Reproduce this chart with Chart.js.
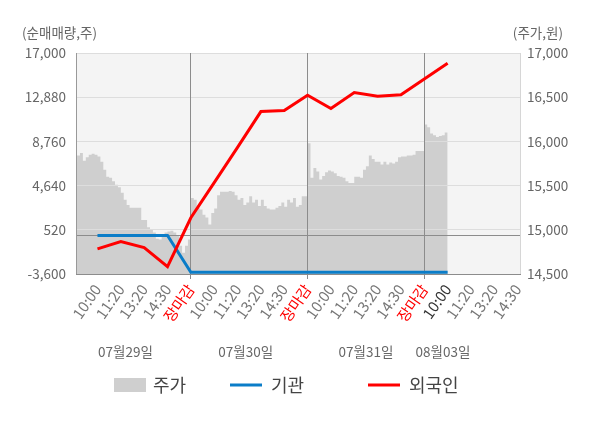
<!DOCTYPE html>
<html>
<head>
<meta charset="utf-8">
<script src="https://cdn.jsdelivr.net/npm/chart.js@4.4.0/dist/chart.umd.min.js"></script>
<style>
  html, body { margin: 0; padding: 0; background: #fff; }
  #wrap { width: 600px; height: 428px; position: relative; }
</style>
</head>
<body>
<div id="wrap"><canvas id="chart"></canvas></div>
<script>
// x axis: one slot per label, sessions end at 장마감
const xLabels = ['10:00','11:20','13:20','14:30','장마감',
                 '10:00','11:20','13:20','14:30','장마감',
                 '10:00','11:20','13:20','14:30','장마감',
                 '10:00','11:20','13:20','14:30'];
const dayLabels = ['07월29일', '07월30일', '07월31일', '08월03일'];
const dayLabelAt = [1.2, 6.35, 11.5, 14.8];

// 순매매량 (주) at each label slot
const foreign = [-1260, -580, -1140, -2920, 1640, 4920, 8200, 11540, 11640, 13070, 11820, 13320, 12980, 13100, 14570, 16040];
const institution = [0, 0, 0, 0, -3440, -3440, -3440, -3440, -3440, -3440, -3440, -3440, -3440, -3440, -3440, -3440];

// 주가 (원), 40 samples per session
const priceDay1 = [15760, 15840, 15870, 15780, 15820, 15850, 15860, 15850, 15830, 15770,
                   15680, 15600, 15590, 15550, 15510, 15480, 15420, 15340, 15280, 15250,
                   15250, 15250, 15250, 15110, 15110, 15030, 15000, 14970, 14900, 14890,
                   14950, 14970, 14980, 14990, 14970, 14940, 14820, 14740, 14820, 14890];
const priceDay2 = [15360, 15340, 15250, 15230, 15170, 15140, 15060, 15190, 15240, 15390,
                   15430, 15430, 15430, 15440, 15430, 15390, 15340, 15360, 15280, 15310,
                   15380, 15310, 15340, 15270, 15340, 15270, 15240, 15230, 15230, 15250,
                   15270, 15310, 15260, 15340, 15310, 15360, 15260, 15280, 15380, 15380];
const priceDay3 = [15980, 15590, 15700, 15660, 15570, 15610, 15650, 15670, 15660, 15640,
                   15610, 15600, 15590, 15550, 15530, 15530, 15600, 15600, 15590, 15680,
                   15720, 15840, 15800, 15770, 15770, 15740, 15770, 15740, 15760, 15750,
                   15770, 15820, 15830, 15830, 15840, 15840, 15850, 15890, 15890, 15890];
const priceDay4 = [16190, 16160, 16090, 16070, 16050, 16060, 16070, 16100];

const leftTicks = [-3600, 520, 4640, 8760, 12880, 17000];
const rightTicks = [14500, 15000, 15500, 16000, 16500, 17000];

const SAMPLES = 40;
const pricePoints = [];
[priceDay1, priceDay2, priceDay3, priceDay4].forEach((day, d) => {
  day.forEach((v, k) => pricePoints.push({ x: -1 + 5 * d + 5 * k / SAMPLES, y: v }));
});
const lastP = pricePoints[pricePoints.length - 1];
pricePoints.push({ x: lastP.x + 5 / SAMPLES, y: lastP.y });

const currentIdx = foreign.length - 1;
const fmt = v => Number(v).toLocaleString('en-US');
const FONT = "'Noto Sans CJK KR', 'Noto Sans', sans-serif";
Chart.defaults.font.family = FONT;

const decor = {
  id: 'decor',
  beforeDraw(chart) {
    const { ctx, chartArea: a } = chart;
    ctx.save();
    ctx.fillStyle = '#f4f4f4';
    ctx.fillRect(a.left, a.top, a.right - a.left, a.bottom - a.top);
    ctx.restore();
  },
  afterDatasetDraw(chart, args) {
    // grid sits on top of the price area, under the lines
    if (args.index !== 0) return;
    ['y', 'x'].forEach(id => {
      chart.scales[id].drawGrid(chart.chartArea);
      chart.scales[id].drawBorder();
    });
  },
  afterDraw(chart) {
    const { ctx } = chart;
    const xs = chart.scales.x;
    ctx.save();
    ctx.textBaseline = 'middle';
    ctx.font = '13.5px ' + FONT;
    ctx.fillStyle = '#666';
    ctx.textAlign = 'left';
    ctx.fillText('(순매매량,주)', 22, 33);
    ctx.textAlign = 'right';
    ctx.fillText('(주가,원)', 563, 33);

    ctx.textAlign = 'center';
    dayLabels.forEach((t, i) => ctx.fillText(t, xs.getPixelForValue(dayLabelAt[i]), 352));

    // legend
    const ds = chart.data.datasets;
    const y = 385;
    ctx.font = '18px ' + FONT;
    ctx.textAlign = 'left';
    ctx.fillStyle = ds[0].backgroundColor;
    ctx.fillRect(114, y - 7, 32, 14);
    ctx.fillStyle = '#444';
    ctx.fillText(ds[0].label, 153, y);
    [[ds[1], 230], [ds[2], 368]].forEach(([d, x0]) => {
      ctx.strokeStyle = d.borderColor;
      ctx.lineWidth = 3;
      ctx.beginPath();
      ctx.moveTo(x0, y);
      ctx.lineTo(x0 + 32, y);
      ctx.stroke();
      ctx.fillStyle = '#444';
      ctx.fillText(d.label, x0 + 41, y);
    });
    ctx.restore();
  }
};

new Chart(document.getElementById('chart'), {
  type: 'line',
  data: {
    datasets: [
      { label: '주가', data: pricePoints, yAxisID: 'y1', stepped: true, fill: 'start',
        backgroundColor: '#cfcfcf', borderWidth: 0, pointRadius: 0, order: 2 },
      { label: '기관', data: institution.map((v, i) => ({ x: i, y: v })), yAxisID: 'y',
        borderColor: '#0b7dc8', borderWidth: 3, pointRadius: 0, tension: 0, order: 1 },
      { label: '외국인', data: foreign.map((v, i) => ({ x: i, y: v })), yAxisID: 'y',
        borderColor: '#ff0000', borderWidth: 3, pointRadius: 0, tension: 0, order: 0 }
    ]
  },
  options: {
    responsive: true,
    maintainAspectRatio: false,
    animation: false,
    layout: { padding: { top: 53, left: 0, right: 0, bottom: 0 } },
    plugins: { legend: { display: false }, tooltip: { enabled: false } },
    scales: {
      x: {
        type: 'linear', min: -0.92, max: 18.1, bounds: 'data',
        afterBuildTicks: s => { s.ticks = xLabels.map((_, i) => ({ value: i })); },
        afterFit: s => { s.height = 154; },
        grid: {
          color: c => xLabels[c.index] === '장마감' ? '#8c8c8c' : 'rgba(0,0,0,0)',
          tickColor: c => xLabels[c.index] === '장마감' ? '#8c8c8c' : 'rgba(0,0,0,0)',
          tickLength: 5, lineWidth: 1
        },
        border: { color: '#8c8c8c' },
        ticks: {
          autoSkip: false, minRotation: 55, maxRotation: 55, padding: 2,
          font: { size: 15 },
          color: c => xLabels[c.index] === '장마감' ? '#ff0000' : (c.index === currentIdx ? '#333' : '#777'),
          callback: (v, i) => xLabels[i]
        }
      },
      y: {
        position: 'left', min: -3600, max: 17000,
        afterBuildTicks: s => { s.ticks = leftTicks.concat([0]).sort((a, b) => a - b).map(v => ({ value: v })); },
        afterFit: s => { s.width = 76; },
        grid: { color: c => c.tick && c.tick.value === 0 ? '#8c8c8c' : '#dddddd', drawTicks: false },
        border: { color: '#999' },
        ticks: { padding: 10, font: { size: 13.5 }, color: '#666',
                 callback: v => v === 0 ? '' : fmt(v) }
      },
      y1: {
        position: 'right', min: 14500, max: 17000,
        afterBuildTicks: s => { s.ticks = rightTicks.map(v => ({ value: v })); },
        afterFit: s => { s.width = 80; },
        grid: { display: false, drawTicks: false },
        border: { color: '#d6d6d6' },
        ticks: { padding: 7, font: { size: 13.5 }, color: '#666', callback: v => fmt(v) }
      }
    }
  },
  plugins: [decor]
});
</script>
</body>
</html>
